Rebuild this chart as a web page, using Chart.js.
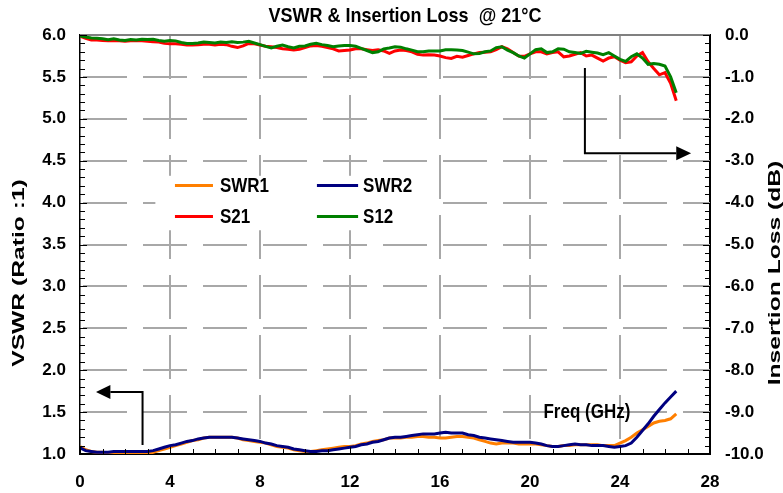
<!DOCTYPE html>
<html>
<head>
<meta charset="utf-8">
<script src="https://cdn.jsdelivr.net/npm/chart.js@4.4.0/dist/chart.umd.min.js"></script>
<style>
html,body{margin:0;padding:0;background:#ffffff;}
#wrap{width:783px;height:493px;}
</style>
</head>
<body>
<div id="wrap"><canvas id="c" width="783" height="493"></canvas></div>
<script>
// ---------- text ----------
const chartTitle = 'VSWR & Insertion Loss  @ 21°C';
const leftAxisTitle = 'VSWR (Ratio :1)';
const rightAxisTitle = 'Insertion Loss (dB)';
const freqNote = 'Freq (GHz)';

// ---------- data ----------
const freqGHz = [
  0,0.25,0.5,0.75, 1,1.25,1.5,1.75, 2,2.25,2.5,2.75, 3,3.25,3.5,3.75,
  4,4.25,4.5,4.75, 5,5.25,5.5,5.75, 6,6.25,6.5,6.75, 7,7.25,7.5,7.75,
  8,8.25,8.5,8.75, 9,9.25,9.5,9.75, 10,10.25,10.5,10.75, 11,11.25,11.5,11.75,
  12,12.25,12.5,12.75, 13,13.25,13.5,13.75, 14,14.25,14.5,14.75, 15,15.25,15.5,15.75,
  16,16.25,16.5,16.75, 17,17.25,17.5,17.75, 18,18.25,18.5,18.75, 19,19.25,19.5,19.75,
  20,20.25,20.5,20.75, 21,21.25,21.5,21.75, 22,22.25,22.5,22.75, 23,23.25,23.5,23.75,
  24,24.25,24.5,24.75, 25,25.25,25.5,25.75, 26,26.25,26.5
];
const swr1 = [
  1.09,1.05,1.03,1.02, 1.02,1.01,1.01,1.00, 1.00,1.00,1.00,1.00, 1.00,1.02,1.04,1.06,
  1.08,1.10,1.12,1.14, 1.16,1.17,1.19,1.20, 1.20,1.20,1.20,1.20, 1.19,1.17,1.16,1.15,
  1.14,1.13,1.11,1.09, 1.08,1.07,1.05,1.04, 1.03,1.03,1.04,1.05, 1.06,1.07,1.08,1.09,
  1.09,1.10,1.12,1.13, 1.15,1.16,1.17,1.19, 1.19,1.19,1.20,1.20, 1.21,1.21,1.20,1.20,
  1.19,1.19,1.20,1.21, 1.21,1.20,1.19,1.17, 1.15,1.13,1.12,1.13, 1.13,1.13,1.12,1.12,
  1.12,1.12,1.11,1.10, 1.09,1.09,1.10,1.10, 1.11,1.11,1.11,1.11, 1.11,1.10,1.10,1.10,
  1.13,1.16,1.20,1.25, 1.29,1.33,1.37,1.39, 1.40,1.42,1.48
];
const swr2 = [
  1.075,1.04,1.03,1.02, 1.02,1.02,1.03,1.03, 1.03,1.03,1.03,1.03, 1.03,1.04,1.06,1.08,
  1.10,1.11,1.13,1.15, 1.16,1.18,1.19,1.20, 1.20,1.20,1.20,1.20, 1.19,1.18,1.17,1.16,
  1.15,1.13,1.12,1.10, 1.09,1.08,1.06,1.05, 1.04,1.03,1.03,1.04, 1.04,1.05,1.06,1.07,
  1.08,1.09,1.11,1.12, 1.14,1.15,1.17,1.19, 1.20,1.20,1.21,1.22, 1.23,1.24,1.24,1.24,
  1.25,1.26,1.25,1.25, 1.25,1.23,1.22,1.20, 1.19,1.18,1.17,1.16, 1.15,1.14,1.14,1.14,
  1.14,1.13,1.12,1.10, 1.09,1.09,1.10,1.11, 1.12,1.11,1.11,1.10, 1.10,1.10,1.09,1.08,
  1.09,1.10,1.13,1.20, 1.28,1.36,1.45,1.53, 1.61,1.68,1.75
];
const s21 = [
  -0.03,-0.08,-0.12,-0.12, -0.13,-0.14,-0.13,-0.14, -0.15,-0.14,-0.14,-0.14, -0.15,-0.16,-0.17,-0.20,
  -0.21,-0.21,-0.22,-0.24, -0.24,-0.23,-0.22,-0.22, -0.24,-0.22,-0.23,-0.27, -0.30,-0.26,-0.20,-0.21,
  -0.24,-0.27,-0.28,-0.30, -0.33,-0.34,-0.36,-0.34, -0.30,-0.26,-0.25,-0.27, -0.30,-0.33,-0.38,-0.37,
  -0.36,-0.33,-0.33,-0.35, -0.37,-0.35,-0.38,-0.44, -0.38,-0.36,-0.37,-0.40, -0.46,-0.48,-0.47,-0.48,
  -0.50,-0.54,-0.56,-0.51, -0.53,-0.49,-0.45,-0.42, -0.41,-0.40,-0.35,-0.28, -0.33,-0.42,-0.50,-0.51,
  -0.45,-0.40,-0.40,-0.45, -0.42,-0.40,-0.52,-0.50, -0.46,-0.42,-0.50,-0.48, -0.55,-0.62,-0.55,-0.52,
  -0.60,-0.66,-0.64,-0.50, -0.42,-0.64,-0.80,-0.95, -0.90,-1.15,-1.57
];
const s12 = [
  -0.02,-0.05,-0.07,-0.08, -0.09,-0.11,-0.09,-0.12, -0.13,-0.11,-0.12,-0.10, -0.11,-0.10,-0.13,-0.15,
  -0.13,-0.14,-0.18,-0.20, -0.20,-0.19,-0.17,-0.18, -0.19,-0.17,-0.18,-0.16, -0.18,-0.17,-0.15,-0.19,
  -0.23,-0.27,-0.31,-0.27, -0.24,-0.28,-0.31,-0.27, -0.26,-0.22,-0.20,-0.23, -0.25,-0.28,-0.26,-0.25,
  -0.25,-0.27,-0.32,-0.37, -0.42,-0.40,-0.33,-0.31, -0.28,-0.29,-0.33,-0.36, -0.40,-0.40,-0.38,-0.38,
  -0.38,-0.35,-0.35,-0.36, -0.37,-0.41,-0.45,-0.44, -0.40,-0.38,-0.30,-0.28, -0.36,-0.42,-0.50,-0.55,
  -0.45,-0.35,-0.33,-0.42, -0.40,-0.33,-0.34,-0.40, -0.42,-0.44,-0.39,-0.41, -0.43,-0.47,-0.42,-0.50,
  -0.58,-0.63,-0.52,-0.45, -0.55,-0.70,-0.68,-0.70, -0.74,-1.00,-1.38
];

// axis ranges / ticks
const xRange = [0, 28];
const xStep = 4;
const xGridValues = [4, 8, 12, 16, 20, 24];
const vswrRange = [1, 6];
const vswrStep = 0.5;
const vswrGridValues = [1.5, 2, 2.5, 3, 3.5, 4, 4.5, 5, 5.5];
const lossRange = [-10, 0];
const lossStep = 1;

// ---------- styles ----------
const FONT = "'Liberation Sans', Arial, Helvetica, sans-serif";
const GRID = '#a8a8a8';
const DASH_ON = 44, DASH_PERIOD = 60;

function pts(ys) { return freqGHz.map((f, i) => ({ x: f, y: ys[i] })); }
function lineDs(label, ys, color, axis) {
  return { label, data: pts(ys), yAxisID: axis, borderColor: color, backgroundColor: color,
           borderWidth: 3, pointRadius: 0, tension: 0, fill: false };
}

const legendRows = [['SWR1', 'SWR2'], ['S21', 'S12']];

function stretchedText(ctx, txt, cx, cy, rot, sx, sy) {
  ctx.save();
  ctx.translate(cx, cy);
  if (rot) ctx.rotate(rot);
  ctx.scale(sx, sy);
  ctx.fillText(txt, 0, 0);
  ctx.restore();
}

const decor = {
  id: 'decor',
  beforeDatasetsDraw(chart) {
    const { ctx, chartArea: a, scales: { x, y } } = chart;
    const top = Math.round(a.top), bottom = Math.round(a.bottom);
    const left = Math.round(a.left), right = Math.round(a.right);
    ctx.save();
    // grid lines (dashed, grey) drawn as explicit 2px segments
    ctx.fillStyle = GRID;
    xGridValues.forEach(v => {
      const p = Math.round(x.getPixelForValue(v)) - 1;
      let s = top;
      while (s < bottom) {
        const e = Math.min(s + DASH_ON, bottom);
        ctx.fillRect(p, s, 2, e - s);
        s += DASH_PERIOD;
      }
    });
    vswrGridValues.forEach(v => {
      const p = Math.round(y.getPixelForValue(v)) - 1;
      let s = left + 3;
      while (s < right) {
        const e = Math.min(s + DASH_ON, right);
        ctx.fillRect(s, p, e - s, 2);
        s += DASH_PERIOD;
      }
    });
    // top frame line
    ctx.fillStyle = '#808080';
    ctx.fillRect(left, top - 1, right - left, 2);
    // legend background box
    const bx1 = x.getPixelForValue(3.35), bx2 = x.getPixelForValue(15.5);
    const by1 = y.getPixelForValue(4.32), by2 = y.getPixelForValue(3.67);
    ctx.fillStyle = '#ffffff';
    ctx.fillRect(bx1, by1, bx2 - bx1, by2 - by1);
    // legend entries
    const colX = [[4.22, 5.91, 6.22], [10.53, 12.36, 12.58]];
    const rowY = [4.21, 3.84];
    const byLabel = {};
    chart.data.datasets.forEach(d => byLabel[d.label] = d);
    ctx.font = 'bold 17px ' + FONT;
    ctx.textBaseline = 'middle'; ctx.textAlign = 'left';
    legendRows.forEach((row, ri) => {
      row.forEach((lab, ci) => {
        const d = byLabel[lab];
        const py = Math.round(y.getPixelForValue(rowY[ri])) + 0.5;
        ctx.strokeStyle = d.borderColor; ctx.lineWidth = 3;
        ctx.beginPath();
        ctx.moveTo(x.getPixelForValue(colX[ci][0]), py);
        ctx.lineTo(x.getPixelForValue(colX[ci][1]), py);
        ctx.stroke();
        ctx.fillStyle = '#000';
        stretchedText(ctx, lab, x.getPixelForValue(colX[ci][2]), py + 1, 0, 1, 1.15);
      });
    });
    ctx.restore();
  },
  afterDatasetsDraw(chart) {
    const { ctx, chartArea: a, scales: { x, y, y2 } } = chart;
    ctx.save();
    // inward tick marks
    ctx.strokeStyle = '#000'; ctx.lineWidth = 1;
    ctx.beginPath();
    for (let k = 0; k <= 50; k++) {
      const v = vswrRange[0] + k * 0.1;
      const p = Math.round(y.getPixelForValue(v)) + 0.5;
      const len = (k % 5 === 0) ? 7 : 5;
      ctx.moveTo(a.left, p); ctx.lineTo(a.left + len, p);
    }
    for (let k = 0; k <= 50; k++) {
      const v = lossRange[0] + k * 0.2;
      const p = Math.round(y2.getPixelForValue(v)) + 0.5;
      const len = (k % 5 === 0) ? 7 : 5;
      ctx.moveTo(a.right, p); ctx.lineTo(a.right - len, p);
    }
    for (let k = 0; k <= 28; k++) {
      const p = Math.round(x.getPixelForValue(k)) + 0.5;
      const len = (k % 4 === 0) ? 7 : 5;
      ctx.moveTo(p, a.bottom); ctx.lineTo(p, a.bottom - len);
    }
    ctx.stroke();

    // arrows
    ctx.strokeStyle = '#000'; ctx.fillStyle = '#000'; ctx.lineWidth = 2;
    const lx = x.getPixelForValue(2.78), ly1 = y.getPixelForValue(1.74), ly2 = y.getPixelForValue(1.107);
    const ltip = x.getPixelForValue(0.71), lbase = x.getPixelForValue(1.35);
    ctx.beginPath(); ctx.moveTo(lx, ly2); ctx.lineTo(lx, ly1); ctx.lineTo(lbase, ly1); ctx.stroke();
    ctx.beginPath(); ctx.moveTo(ltip, ly1); ctx.lineTo(lbase, ly1 - 7); ctx.lineTo(lbase, ly1 + 7); ctx.closePath(); ctx.fill();
    const rx = x.getPixelForValue(22.44), ry1 = y2.getPixelForValue(-0.79), ry2 = y2.getPixelForValue(-2.82);
    const rtip = x.getPixelForValue(27.16), rbase = x.getPixelForValue(26.5);
    ctx.beginPath(); ctx.moveTo(rx, ry1); ctx.lineTo(rx, ry2); ctx.lineTo(rbase, ry2); ctx.stroke();
    ctx.beginPath(); ctx.moveTo(rtip, ry2); ctx.lineTo(rbase, ry2 - 7); ctx.lineTo(rbase, ry2 + 7); ctx.closePath(); ctx.fill();

    // texts
    ctx.fillStyle = '#000';
    ctx.textAlign = 'center'; ctx.textBaseline = 'middle';
    ctx.font = 'bold 17px ' + FONT;
    stretchedText(ctx, freqNote, x.getPixelForValue(22.53), y.getPixelForValue(1.49), 0, 1, 1.15);
    ctx.font = 'bold 18px ' + FONT;
    stretchedText(ctx, chartTitle, (a.left + a.right) / 2 + 10, 16, 0, 1, 1.15);
    ctx.font = 'bold 17px ' + FONT;
    stretchedText(ctx, leftAxisTitle, 19, 273, -Math.PI / 2, 1.45, 1);
    stretchedText(ctx, rightAxisTitle, 775, 273, -Math.PI / 2, 1.45, 1);
    ctx.restore();
  }
};

Chart.defaults.font.family = FONT;
Chart.defaults.font.size = 17;
Chart.defaults.font.weight = 'bold';
Chart.defaults.color = '#000';

new Chart(document.getElementById('c'), {
  type: 'line',
  data: {
    datasets: [
      lineDs('SWR2', swr2, '#000080', 'y'),
      lineDs('SWR1', swr1, '#FF7F00', 'y'),
      lineDs('S12', s12, '#008000', 'y2'),
      lineDs('S21', s21, '#FF0000', 'y2')
    ]
  },
  options: {
    responsive: false, animation: false, devicePixelRatio: 1,
    layout: { padding: { top: 35, left: 0, right: 0, bottom: 0 } },
    plugins: { legend: { display: false }, tooltip: { enabled: false }, title: { display: false } },
    scales: {
      x: {
        type: 'linear', min: xRange[0], max: xRange[1],
        ticks: { stepSize: xStep, padding: 18, callback: v => String(v) },
        grid: { display: false, drawTicks: false },
        border: { display: true, color: '#000', width: 2 },
        afterFit(s) { s.height = 39; }
      },
      y: {
        position: 'left', min: vswrRange[0], max: vswrRange[1],
        ticks: { stepSize: vswrStep, padding: 14, callback: v => Number(v).toFixed(1) },
        grid: { display: false, drawTicks: false },
        border: { display: true, color: '#000', width: 1.5 },
        afterFit(s) { s.width = 80; }
      },
      y2: {
        position: 'right', min: lossRange[0], max: lossRange[1],
        ticks: { stepSize: lossStep, padding: 15, callback: v => Number(v).toFixed(1) },
        grid: { display: false, drawTicks: false },
        border: { display: true, color: '#000', width: 2 },
        afterFit(s) { s.width = 73; }
      }
    }
  },
  plugins: [decor]
});
</script>
</body>
</html>
